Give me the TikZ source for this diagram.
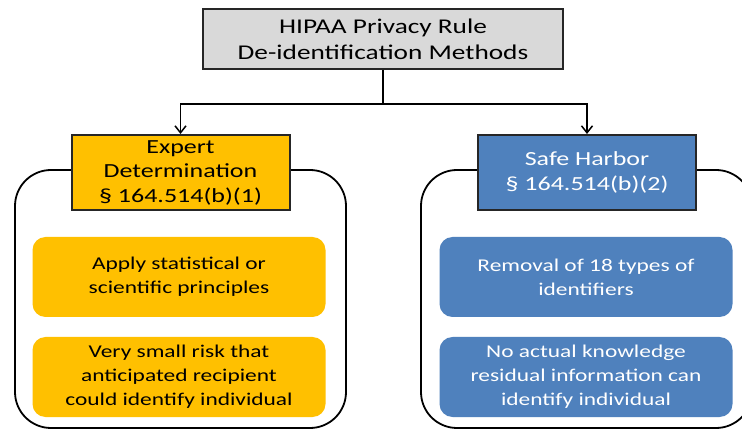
\documentclass[tikz,border=0pt]{standalone}
\usepackage{fontspec}
\setmainfont{Carlito}[FakeStretch=1.3]
\usepackage{tikz}
\usetikzlibrary{arrows.meta}

\definecolor{boxgray}{HTML}{D9D9D9}
\definecolor{expertorange}{HTML}{FFC000}
\definecolor{harborblue}{HTML}{4F81BD}

\tikzset{
  headbox/.style={draw=black!85, line width=2pt, fill=boxgray, align=center,
    minimum width=360pt, minimum height=60pt, font=\fontsize{21}{26}\selectfont},
  methodbox/.style={draw=black!85, line width=2pt, align=center, inner ysep=1pt,
    minimum width=218pt, minimum height=75pt, font=\fontsize{20}{24.5}\selectfont},
  groupbox/.style={draw=black, line width=1.8pt, rounded corners=36pt,
    minimum width=331pt, minimum height=258pt},
  itembox/.style={rounded corners=13pt, align=center, minimum width=293pt,
    minimum height=80pt, font=\fontsize{18}{24}\selectfont}
}

\begin{document}
\begin{tikzpicture}[x=1pt, y=-1pt, >={Straight Barb[length=7pt,width=11pt]}]
        \clip (0, 0) rectangle (742, 430);
        \fill[white] (0, 0) rectangle (742, 430);
        % outlines behind the method boxes
        \node[groupbox] (expertgroup) at (180.5, 299) {};
        \node[groupbox] (harborgroup) at (586.5, 299) {};
        % top and method boxes
        \node[headbox] (rule) at (383, 39) {HIPAA Privacy Rule\\De-identification Methods};
        \node[methodbox, fill=expertorange] (expert) at (180.5, 172.5) {Expert\\Determination\\§ 164.514(b)(1)};
        \node[methodbox, fill=harborblue, text=white] (harbor) at (587, 172.5) {Safe Harbor\\§ 164.514(b)(2)};
        % connectors
        \draw[line width=2.5pt] (rule.south) -- ++(0, 34) coordinate (split);
        \draw[->, line width=1.5pt] (split) -| (expert.north);
        \draw[->, line width=1.5pt] (split) -| (harbor.north);
        % items
        \node[itembox, fill=expertorange] (statistical) at (179, 277) {Apply statistical or\\scientific principles};
        \node[itembox, fill=expertorange] (risk) at (179, 377) {Very small risk that\\anticipated recipient\\could identify individual};
        \node[itembox, fill=harborblue, text=white] (removal) at (586, 277) {Removal of 18 types of\\identifiers};
        \node[itembox, fill=harborblue, text=white] (knowledge) at (586, 377) {No actual knowledge\\residual information can\\identify individual};
    \end{tikzpicture}
\end{document}
